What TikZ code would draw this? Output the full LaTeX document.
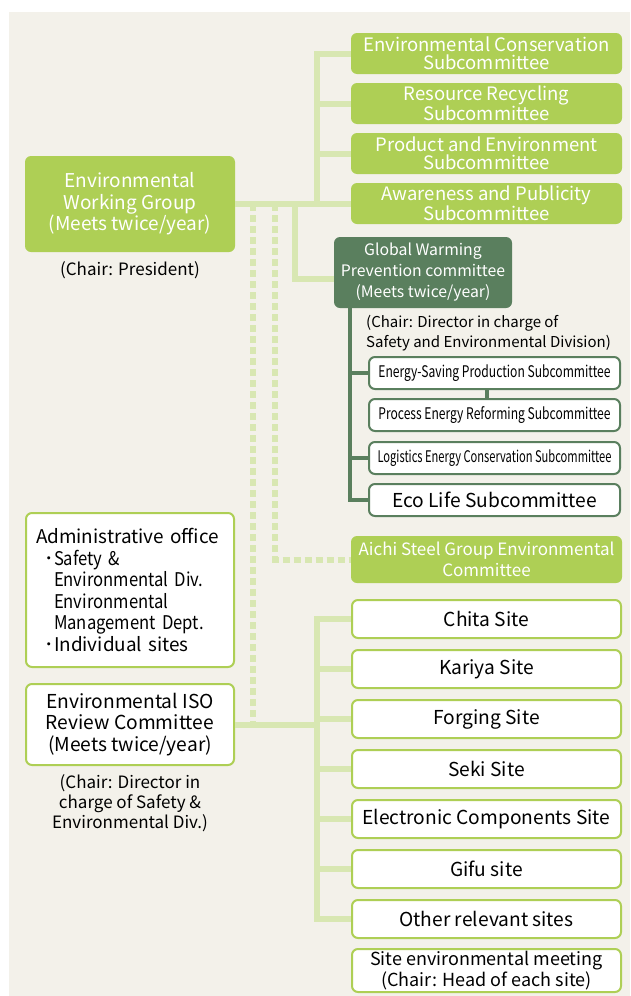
\documentclass[tikz,border=0pt]{standalone}
\usepackage{fontspec}
\setmainfont{Noto Sans CJK JP}
\newfontfamily\condfont[FakeStretch=0.755]{Noto Sans CJK JP}
\newfontfamily\narrowfont[FakeStretch=0.695]{Noto Sans CJK JP}
\newfontfamily\midfont[FakeStretch=0.88]{Noto Sans CJK JP}
\usetikzlibrary{calc}

\definecolor{panelbg}{RGB}{243,241,234}
\definecolor{leafgreen}{RGB}{174,207,85}
\definecolor{palegreen}{RGB}{216,231,178}
\definecolor{darkgreen}{RGB}{90,127,94}

\newcommand{\bul}{\makebox[18pt][r]{･}}
\newcommand{\ind}{\hspace*{18pt}}

\tikzset{
  greenbox/.style={rectangle,rounded corners=6pt,fill=leafgreen,text=white,
    align=center,inner sep=0pt,font=\fontsize{18.5}{18}\selectfont},
  whitebox/.style={rectangle,rounded corners=6pt,draw=leafgreen,line width=2pt,
    fill=white,align=center,inner sep=0pt,font=\fontsize{19.2}{21.5}\selectfont},
  subbox/.style={whitebox,draw=darkgreen,minimum width=251pt,minimum height=32pt,
    font=\condfont\fontsize{16}{18}\selectfont},
  note/.style={align=center,inner sep=0pt,font=\fontsize{17}{20}\selectfont},
  bus/.style={palegreen,line width=6pt},
  dbus/.style={bus,dash pattern=on 7pt off 4pt},
  darkbus/.style={darkgreen,line width=4pt},
}

\begin{document}
\begin{tikzpicture}[x=1pt,y=-1pt]
  % page and panel
  \useasboundingbox[fill=white] (0,0) rectangle (630,996);
  \fill[panelbg] (9,12) rectangle (630,996);

  % bus positions
  \coordinate (topbus) at (317,0);
  \coordinate (gwdrop) at (295,0);
  \coordinate (dashA) at (253,0);
  \coordinate (dashB) at (275,0);
  \coordinate (gwbus) at (350,0);
  \coordinate (elink) at (487,0);
  \coordinate (sitebus) at (317,0);

  % working group and its subcommittees
  \node[greenbox,minimum width=210pt,minimum height=96pt,
        font=\fontsize{19}{21.5}\selectfont] (wg) at (130,204)
        {Environmental\\Working Group\\(Meets twice/year)};
  \node[note] (wgchair) at (130,270) {(Chair: President)};

  \node[greenbox,minimum width=271pt,minimum height=41pt] (sc1) at (486.5,53.5)
        {Environmental Conservation\\Subcommittee};
  \node[greenbox,minimum width=271pt,minimum height=41pt] (sc2) at (486.5,103.5)
        {Resource Recycling\\Subcommittee};
  \node[greenbox,minimum width=271pt,minimum height=41pt] (sc3) at (486.5,153.5)
        {Product and Environment\\Subcommittee};
  \node[greenbox,minimum width=271pt,minimum height=41pt] (sc4) at (486.5,203.5)
        {Awareness and Publicity\\Subcommittee};

  % global warming committee
  \node[greenbox,fill=darkgreen,minimum width=178pt,minimum height=71pt,
        font=\fontsize{15.8}{21}\selectfont] (gw) at (423,272.5)
        {Global Warming\\Prevention committee\\(Meets twice/year)};
  \node[note,anchor=west,align=left,font=\fontsize{15}{20}\selectfont] (gwchair)
        at (366,333)
        {(Chair: Director in charge of\\Safety and Environmental Division)};

  \node[subbox] (e1) at (494.5,373) {Energy-Saving Production Subcommittee};
  \node[subbox] (e2) at (494.5,415) {Process Energy Reforming Subcommittee};
  \node[subbox,font=\narrowfont\fontsize{16}{18}\selectfont] (e3) at (494.5,458)
        {Logistics Energy Conservation Subcommittee};
  \node[subbox,font=\fontsize{19.2}{20}\selectfont] (e4) at (494.5,500)
        {Eco Life Subcommittee};

  % group committee
  \node[greenbox,minimum width=271pt,minimum height=47pt,
        font=\fontsize{17}{21}\selectfont] (aichi) at (486.5,559.5)
        {Aichi Steel Group Environmental\\Committee};

  % administrative office and ISO review
  \node[whitebox,minimum height=154pt,text width=188pt,inner xsep=10pt,align=left,
        font=\fontsize{18.9}{21.5}\selectfont] (admin) at (130,590)
        {Administrative office\\
         \bul{\midfont Safety \&}\\
         \ind{\midfont Environmental Div.}\\
         \ind{\midfont Environmental}\\
         \ind{\midfont Management Dept.}\\
         \bul Individual sites};
  \node[whitebox,minimum width=208pt,minimum height=81pt] (iso) at (130,724.5)
        {Environmental ISO\\Review Committee\\(Meets twice/year)};
  \node[note] (isochair) at (130,803)
        {(Chair: Director in\\charge of Safety \&\\Environmental Div.)};

  % sites
  \node[whitebox,minimum width=269pt,minimum height=38pt] (s1) at (486.5,619) {Chita Site};
  \node[whitebox,minimum width=269pt,minimum height=38pt] (s2) at (486.5,669) {Kariya Site};
  \node[whitebox,minimum width=269pt,minimum height=38pt] (s3) at (486.5,719) {Forging Site};
  \node[whitebox,minimum width=269pt,minimum height=38pt] (s4) at (486.5,769) {Seki Site};
  \node[whitebox,minimum width=269pt,minimum height=38pt] (s5) at (486.5,819)
        {Electronic Components Site};
  \node[whitebox,minimum width=269pt,minimum height=38pt] (s6) at (486.5,869) {Gifu site};
  \node[whitebox,minimum width=269pt,minimum height=38pt] (s7) at (486.5,919)
        {Other relevant sites};
  \node[whitebox,minimum width=269pt,minimum height=43pt,
        font=\fontsize{18}{21.5}\selectfont] (meet) at (486.5,970.5)
        {Site environmental meeting\\(Chair: Head of each site)};

  % links from the working group
  \draw[bus] (wg.east) -- (wg.east -| topbus) |- (sc1.west);
  \draw[bus] (topbus |- sc2.west) -- (sc2.west);
  \draw[bus] (topbus |- sc3.west) -- (sc3.west);
  \draw[bus] (topbus |- sc4.west) -- (sc4.west);
  \draw[bus] (wg.east -| gwdrop) |- ($(gw.west)+(0,6)$);

  % dashed links
  \draw[dbus] (wg.east -| dashA) -- (iso.east -| dashA);
  \draw[dbus] (wg.east -| dashB) |- (aichi.west);

  % global warming subcommittees
  \draw[darkbus] (gw.south -| gwbus) |- (e4.west);
  \draw[darkbus] (gwbus |- e1.west) -- (e1.west);
  \draw[darkbus] (gwbus |- e3.west) -- (e3.west);
  \draw[darkbus] (e1.south -| elink) -- (e2.north -| elink);

  % ISO review to sites
  \draw[bus] (iso.east) -- (iso.east -| sitebus);
  \draw[bus] (s1.west) -| (sitebus |- s7.west) -- (s7.west);
  \draw[bus] (sitebus |- s2.west) -- (s2.west);
  \draw[bus] (sitebus |- s3.west) -- (s3.west);
  \draw[bus] (sitebus |- s4.west) -- (s4.west);
  \draw[bus] (sitebus |- s5.west) -- (s5.west);
  \draw[bus] (sitebus |- s6.west) -- (s6.west);
\end{tikzpicture}
\end{document}
